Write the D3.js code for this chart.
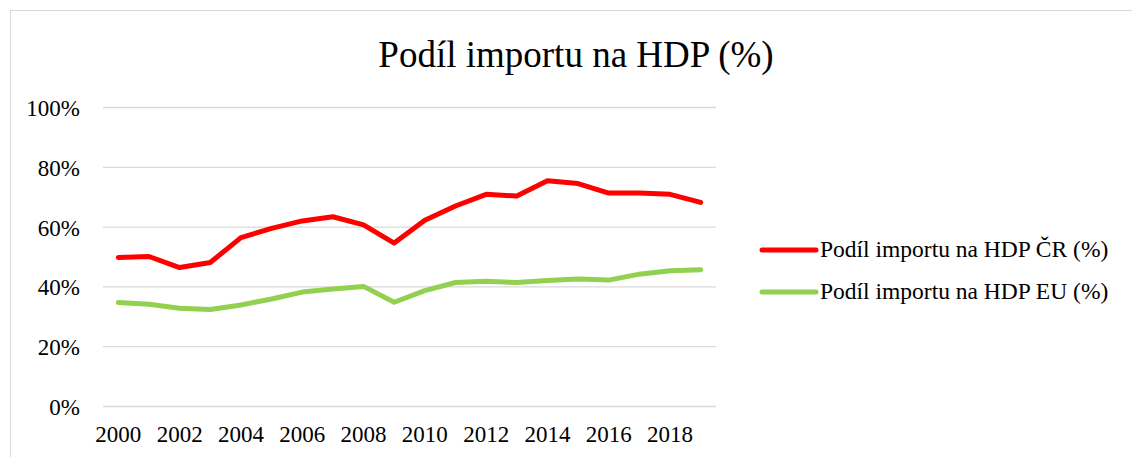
<!DOCTYPE html>
<html>
<head>
<meta charset="utf-8">
<script src="https://cdn.jsdelivr.net/npm/d3@7"></script>
<style>
  body { margin: 0; background: #fff; }
</style>
</head>
<body>
<div id="chart"></div>
<script>
const years = d3.range(2000, 2020);
const importCR = [49.7, 50.0, 46.3, 48.0, 56.3, 59.4, 61.9, 63.3, 60.6, 54.5,
                  62.1, 66.9, 70.8, 70.2, 75.3, 74.4, 71.2, 71.2, 70.8, 68.1];
const importEU = [34.6, 34.0, 32.7, 32.3, 33.8, 35.8, 38.1, 39.1, 40.0, 34.7,
                  38.6, 41.3, 41.7, 41.3, 42.0, 42.5, 42.1, 44.1, 45.2, 45.6];
const yTicks = [0, 20, 40, 60, 80, 100];
const seriesNames = ["Podíl importu na HDP ČR (%)", "Podíl importu na HDP EU (%)"];
const seriesColors = ["#ff0000", "#92d050"];

const serif = "'Liberation Serif', 'Times New Roman', serif";
const width = 1132, height = 457;
const margin = { top: 107, right: 416, bottom: 51, left: 103 };

const svg = d3.select("#chart")
  .append("svg")
  .attr("width", width)
  .attr("height", height);

// chart frame
svg.append("rect")
  .attr("x", 10.5).attr("y", 10.5)
  .attr("width", width + 20).attr("height", height + 20)
  .attr("fill", "none")
  .attr("stroke", "#d9d9d9");

svg.append("text")
  .attr("x", 576)
  .attr("y", 67)
  .attr("text-anchor", "middle")
  .style("font-family", serif)
  .style("font-size", "37px")
  .text("Podíl importu na HDP (%)");

const x = d3.scaleBand()
  .domain(years)
  .range([margin.left, width - margin.right]);

const y = d3.scaleLinear()
  .domain([0, 100])
  .range([height - margin.bottom, margin.top]);

// gridlines + y labels
const yAxis = svg.append("g")
  .attr("transform", `translate(${margin.left}, 0)`)
  .call(d3.axisLeft(y).tickValues(yTicks)
    .tickSize(-(width - margin.right - margin.left))
    .tickPadding(23)
    .tickFormat(d => d + "%"));
yAxis.select(".domain").remove();
yAxis.selectAll("line").attr("stroke", "#d9d9d9").attr("stroke-width", 1.3);
yAxis.selectAll("text")
  .attr("dy", "0.37em")
  .style("font-family", serif)
  .style("font-size", "23px")
  .style("fill", "#000");

// x labels every other year
const xAxis = svg.append("g")
  .attr("transform", `translate(0, ${height - margin.bottom})`)
  .call(d3.axisBottom(x).tickValues(years.filter(d => d % 2 === 0)).tickSize(0).tickPadding(20));
xAxis.select(".domain").remove();
xAxis.selectAll("text")
  .style("font-family", serif)
  .style("font-size", "23px")
  .style("fill", "#000");

const line = d3.line()
  .x((d, i) => x(years[i]) + x.bandwidth() / 2)
  .y(d => y(d));

[importCR, importEU].forEach((vals, i) => {
  svg.append("path")
    .datum(vals)
    .attr("d", line)
    .attr("fill", "none")
    .attr("stroke", seriesColors[i])
    .attr("stroke-width", 5)
    .attr("stroke-linejoin", "round")
    .attr("stroke-linecap", "round");
});

// legend
const legend = svg.append("g");
seriesNames.forEach((name, i) => {
  const ly = 250 + i * 42;
  legend.append("line")
    .attr("x1", 762).attr("x2", 816)
    .attr("y1", ly).attr("y2", ly)
    .attr("stroke", seriesColors[i])
    .attr("stroke-width", 5)
    .attr("stroke-linecap", "round");
  legend.append("text")
    .attr("x", 820).attr("y", ly)
    .attr("dy", "0.3em")
    .style("font-family", serif)
    .style("font-size", "23.5px")
    .text(name);
});
</script>
</body>
</html>
